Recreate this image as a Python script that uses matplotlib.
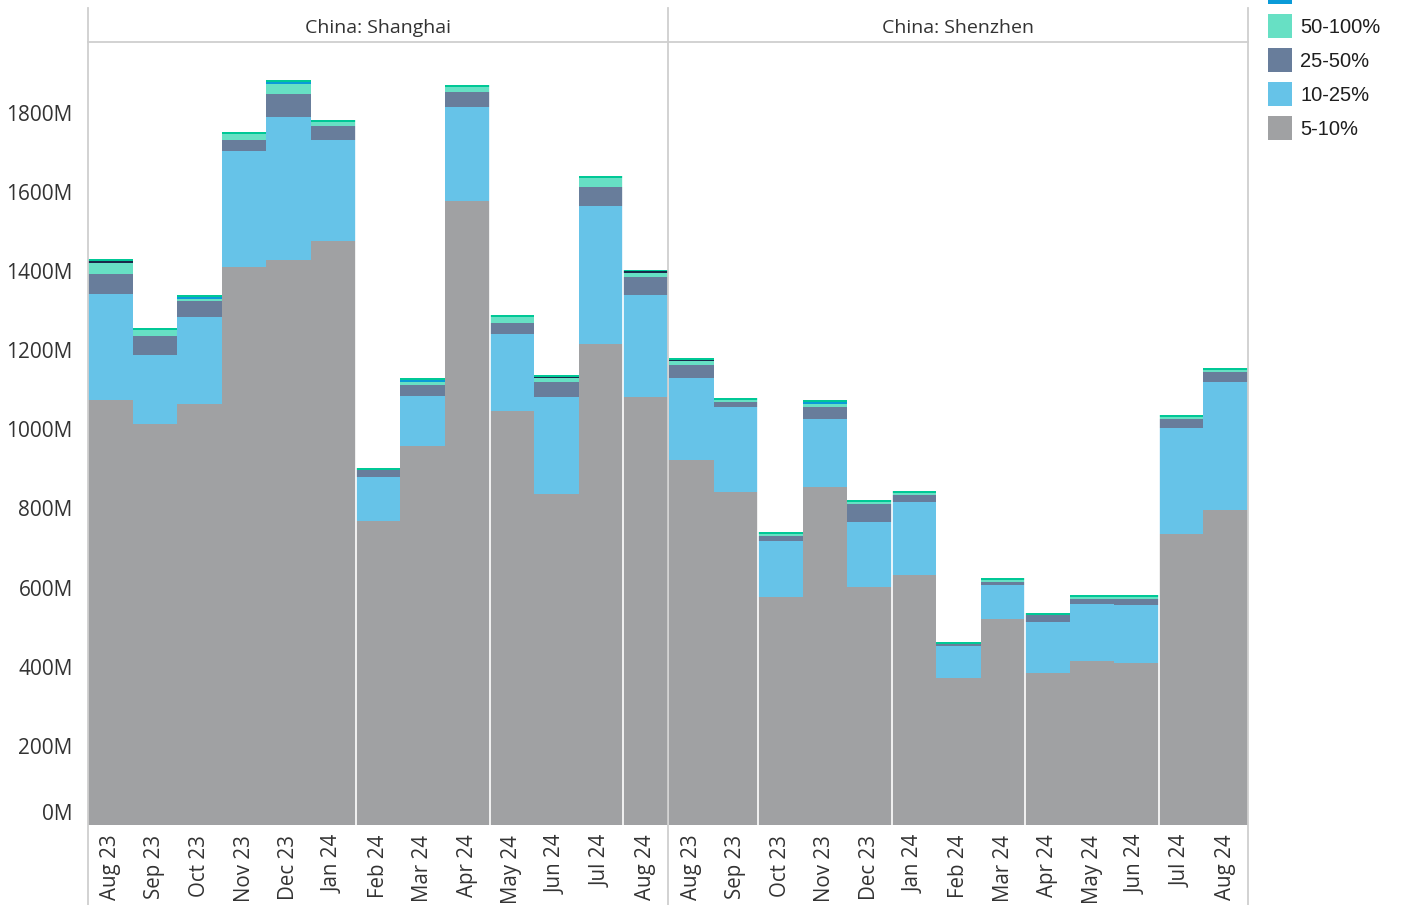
import matplotlib
matplotlib.use('Agg')
import matplotlib.pyplot as plt
from matplotlib.lines import Line2D
from matplotlib.patches import Rectangle
import matplotlib.transforms as mtransforms
import numpy as np

# ---------------- data ----------------
months = ['Aug 23', 'Sep 23', 'Oct 23', 'Nov 23', 'Dec 23', 'Jan 24', 'Feb 24',
          'Mar 24', 'Apr 24', 'May 24', 'Jun 24', 'Jul 24', 'Aug 24']
panels = ['China: Shanghai', 'China: Shenzhen']
categories = ['5-10%', '10-25%', '25-50%', '50-100%', '100-200%', '200-500%', '>500%']
colors = ['#A0A1A3', '#66C3E8', '#687D9B', '#67E0C4', '#0A9BD8', '#1A2A4A', '#00C896']

yticks = [0, 200, 400, 600, 800, 1000, 1200, 1400, 1600, 1800]
ytick_labels = ['0M', '200M', '400M', '600M', '800M', '1000M', '1200M', '1400M', '1600M', '1800M']

# Shanghai (values in millions)
sh_5_10 = [1074, 1014, 1064, 1411, 1428, 1476, 768, 958, 1577, 1047, 837, 1216, 1082]
sh_10_25 = [268, 175, 220, 293, 362, 255, 111, 126, 238, 195, 245, 349, 258]
sh_25_50 = [51, 48, 40, 28, 58, 35, 18, 28, 38, 28, 38, 48, 46]
sh_50_100 = [28, 13, 5, 15, 25, 10, 0, 8, 13, 15, 10, 23, 10]
sh_100_200 = [0, 0, 5, 0, 5, 0, 0, 5, 0, 0, 0, 0, 0]
sh_200_500 = [5, 0, 0, 0, 0, 0, 0, 0, 0, 0, 3, 0, 3]
sh_500p = [5, 5, 5, 5, 5, 5, 5, 5, 5, 5, 5, 5, 5]

# Shenzhen (values in millions)
sz_5_10 = [923, 842, 576, 854, 602, 632, 372, 521, 384, 415, 410, 736, 796]
sz_10_25 = [207, 215, 142, 172, 164, 185, 81, 86, 129, 144, 147, 268, 324]
sz_25_50 = [33, 13, 13, 30, 46, 18, 5, 8, 18, 13, 15, 23, 25]
sz_50_100 = [10, 5, 5, 8, 5, 3, 0, 5, 0, 5, 5, 5, 5]
sz_100_200 = [0, 0, 0, 5, 0, 0, 0, 0, 0, 0, 0, 0, 0]
sz_200_500 = [3, 0, 0, 0, 0, 0, 0, 0, 0, 0, 0, 0, 0]
sz_500p = [5, 5, 5, 5, 5, 5, 5, 5, 5, 5, 5, 5, 5]

shanghai = [sh_5_10, sh_10_25, sh_25_50, sh_50_100, sh_100_200, sh_200_500, sh_500p]
shenzhen = [sz_5_10, sz_10_25, sz_25_50, sz_50_100, sz_100_200, sz_200_500, sz_500p]

# separator positions (between bars) seen in the reference
sh_separators = [5.5, 8.5, 11.5]
sz_separators = [1.5, 4.5, 7.5, 10.5]

# ---------------- figure ----------------
W, H = 1411, 905
fig = plt.figure(figsize=(W / 100, H / 100), dpi=100)
fig.patch.set_facecolor('white')

TXT = '#333333'
LINE = '#CFCFCF'
FONT = 'Open Sans'

top_px, bot_px = 42, 825
xs_px = [(88, 668), (669, 1248)]
ymax = 1979

def fx(px):
    return px / W

def fy(py):
    return 1 - py / H

axes = []
for (l, r) in xs_px:
    ax = fig.add_axes([fx(l), fy(bot_px), fx(r - l), (bot_px - top_px) / H])
    axes.append(ax)

x = np.arange(len(months))
for i, (ax, data, title, seps) in enumerate(zip(axes, [shanghai, shenzhen], panels,
                                                [sh_separators, sz_separators])):
    bottom = np.zeros(len(months))
    for vals, col in zip(data, colors):
        vals = np.array(vals, dtype=float)
        ax.bar(x, vals, width=1.0, bottom=bottom, color=col, linewidth=0)
        bottom += vals
    for s in seps:
        ax.axvline(s, color='white', lw=1.2, zorder=5)
    ax.set_xlim(-0.5, len(months) - 0.5)
    ax.set_ylim(0, ymax)
    for sp in ax.spines.values():
        sp.set_visible(False)
    ax.set_xticks(x)
    ax.set_xticklabels(months, rotation=90, fontsize=14.8, color=TXT, family=FONT,
                       va='top', ha='center')
    ax.tick_params(axis='x', length=0, pad=7)
    ax.set_yticks(yticks)
    ax.tick_params(axis='y', length=0)
    if i == 0:
        ax.set_yticklabels(ytick_labels, fontsize=15, color=TXT, family=FONT)
        ax.tick_params(axis='y', pad=11)
        lab0 = ax.get_yticklabels()[0]
        lab0.set_transform(lab0.get_transform() +
                           mtransforms.ScaledTranslation(0, 13 / 100, fig.dpi_scale_trans))
    else:
        ax.set_yticklabels([])
    ax.set_facecolor('none')
    l, r = xs_px[i]
    fig.text(fx((l + r) / 2), fy(28), title, ha='center', va='center',
             fontsize=14, color=TXT, family=FONT)

# frame lines
for px in [88, 668, 1248]:
    fig.add_artist(Line2D([fx(px), fx(px)], [fy(8), fy(905)], color=LINE, lw=1.3,
                          transform=fig.transFigure, zorder=10))
fig.add_artist(Line2D([fx(88), fx(1248)], [fy(42), fy(42)], color=LINE, lw=1.3,
                      transform=fig.transFigure, zorder=10))

# legend: the reference shows the lower entries, the top ones run off the figure
leg_centers = [128, 94, 60, 26, -8]
for lab, col, cy in zip(categories, colors, leg_centers):
    fig.add_artist(Rectangle((fx(1268), fy(cy + 12)), fx(24), 24 / H,
                             facecolor=col, edgecolor='none',
                             transform=fig.transFigure))
    fig.text(fx(1300), fy(cy + 1.5), lab, ha='left', va='center', fontsize=14.5,
             color='#1E1E1E', family='Liberation Sans')

fig.savefig('out.png', dpi=100, facecolor='white')
